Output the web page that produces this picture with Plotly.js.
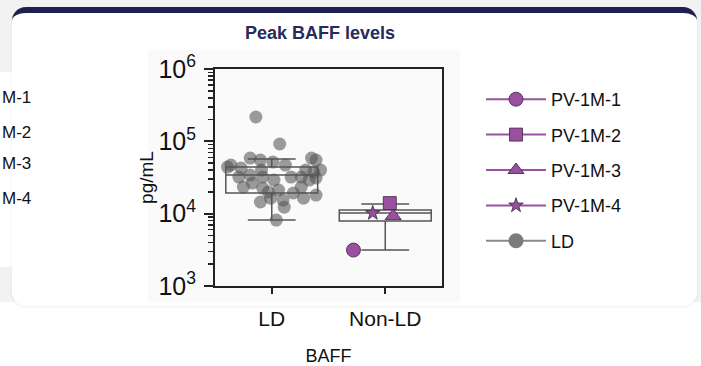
<!DOCTYPE html>
<html><head><meta charset="utf-8">
<script src="https://cdn.plot.ly/plotly-3.0.1.min.js"></script>
<style>
html,body{margin:0;padding:0;width:701px;height:366px;overflow:hidden;background:#fff;}
#bg{position:absolute;left:0;top:0;width:701px;height:302px;background:#f2f2f3;}
#leftpanel{position:absolute;left:0;top:72px;width:12px;height:195px;background:#fff;}
#card{position:absolute;left:12px;top:7px;width:685px;height:299px;background:#fff;border-radius:14px;border-top:6px solid #1f2050;box-sizing:border-box;box-shadow:0 1px 3px rgba(0,0,0,0.07);}
#img{position:absolute;left:148px;top:50px;width:312px;height:252px;background:#fafafa;}
#chart{position:absolute;left:0;top:0;width:701px;height:366px;}
</style></head>
<body>
<div id="bg"></div><div id="leftpanel"></div><div id="card"></div><div id="img"></div>
<div id="chart"></div>
<script>
// ---- data ----
const categories = ['LD', 'Non-LD'];
const ldOffsets = [-0.14, 0.07, -0.19, -0.10, -0.39, -0.27, 0.01, 0.12, 0.35, 0.39, 0.43, 0.37, 0.30, -0.09, -0.29, -0.19, -0.08, 0.02, 0.17, 0.26, 0.39, -0.17, -0.08, -0.03, 0.06, 0.19, 0.26, 0.39, -0.10, -0.01, 0.10, 0.11, 0.28, 0.04, -0.36, -0.25, 0.33];
const ldValues  = [217000, 91800, 58700, 55100, 44100, 42700, 51700, 47000, 58700, 55100, 40100, 37600, 40100, 40100, 32100, 34200, 32100, 29100, 32100, 32100, 31100, 26500, 22600, 19900, 21200, 19300, 23300, 18100, 14500, 16400, 15400, 12300, 16400, 8160, 47000, 23300, 29100];
const boxQ1     = [19300, 7900];
const boxMedian = [34200, 10200];
const boxQ3     = [44100, 11200];
const boxLower  = [8160, 3140];
const boxUpper  = [56900, 13600];
const pvNames   = ['PV-1M-1', 'PV-1M-2', 'PV-1M-3', 'PV-1M-4'];
const pvOffsets = [-0.28, 0.04, 0.07, -0.11];
const pvValues  = [3140, 14000, 9270, 10200];
const pvSymbols = ['circle', 'square', 'triangle-up', 'star'];
const pvSizes   = [14, 13, 14, 11];
const cutLabels = ['M-1', 'M-2', 'M-3', 'M-4'];

// ---- styles ----
const purple = '#9a50a0';
const FONT = 'Arial, "Liberation Sans", sans-serif';
const PL = 215, PT = 69, PW = 227, PH = 217;
const px2x = p => (p - PL) / PW;
const py2y = p => 1 - (p - PT) / PH;

const traces = [];
traces.push({
  type: 'box', x: [0, 1], q1: boxQ1, median: boxMedian, q3: boxQ3,
  lowerfence: boxLower, upperfence: boxUpper, width: 0.81, whiskerwidth: 0.52,
  line: {color: '#555', width: 1.5}, fillcolor: 'rgba(0,0,0,0)', boxpoints: false,
  showlegend: false, hoverinfo: 'skip'
});
traces.push({
  type: 'scatter', mode: 'markers', x: ldOffsets.map(o => 0 + o), y: ldValues,
  marker: {size: 13, color: 'rgba(85,85,85,0.58)'}, showlegend: false, legendgroup: 'LD', name: 'LD'
});
pvNames.forEach((n, i) => traces.push({
  type: 'scatter', mode: 'lines+markers', name: n, legendgroup: 'g' + i,
  x: [1 + pvOffsets[i]], y: [pvValues[i]],
  line: {color: purple, width: 2},
  marker: {symbol: pvSymbols[i], size: pvSizes[i], color: purple, line: {color: '#3b2440', width: 0.8}}
}));
traces.push({
  type: 'scatter', mode: 'lines+markers', name: 'LD', legendgroup: 'LD',
  x: [null], y: [null], line: {color: '#8a8a8a', width: 2}, marker: {size: 15, color: '#7b7b7b'}
});

const axisCommon = {showline: true, linewidth: 2, linecolor: '#222', mirror: true, showgrid: false, zeroline: false,
  ticks: 'outside', tickcolor: '#222', tickwidth: 2};

const layout = {
  width: 701, height: 366,
  margin: {l: PL, r: 701 - PL - PW, t: PT, b: 366 - PT - PH},
  paper_bgcolor: 'rgba(0,0,0,0)', plot_bgcolor: 'rgba(0,0,0,0)',
  font: {family: FONT, color: '#111'},
  title: {text: '<b>Peak BAFF levels</b>', font: {size: 18, color: '#262a5e', family: FONT},
          x: 320 / 701, xref: 'container', xanchor: 'center', y: 1 - 33 / 366, yref: 'container', yanchor: 'middle'},
  xaxis: Object.assign({}, axisCommon, {range: [-0.5, 1.5], tickvals: [0, 1], ticktext: categories, ticklen: 6,
    tickfont: {size: 21}, ticklabelstandoff: 7, title: {text: 'BAFF', font: {size: 18}, standoff: 20}}),
  yaxis: Object.assign({}, axisCommon, {type: 'log', range: [3, 6], dtick: 1, exponentformat: 'power', ticklen: 9,
    tickfont: {size: 20}, ticklabelstandoff: 4,
    minor: {ticks: 'outside', ticklen: 5, tickwidth: 1.5, tickcolor: '#222', dtick: 'D1', showgrid: false},
    title: {text: 'pg/mL', font: {size: 19}, standoff: 0}}),
  legend: {x: px2x(481), y: py2y(81), xanchor: 'left', yanchor: 'top', font: {size: 18, color: '#111'},
    bgcolor: 'rgba(0,0,0,0)', tracegroupgap: 9, itemwidth: 60},
  annotations: cutLabels.map((t, i) => ({text: t, xref: 'paper', yref: 'paper', x: px2x(0), y: py2y([97, 132, 163, 198][i]),
    xanchor: 'left', yanchor: 'middle', showarrow: false, font: {size: 17, color: '#111'}}))
};

Plotly.newPlot('chart', traces, layout, {displayModeBar: false, staticPlot: true});
</script>
</body></html>
